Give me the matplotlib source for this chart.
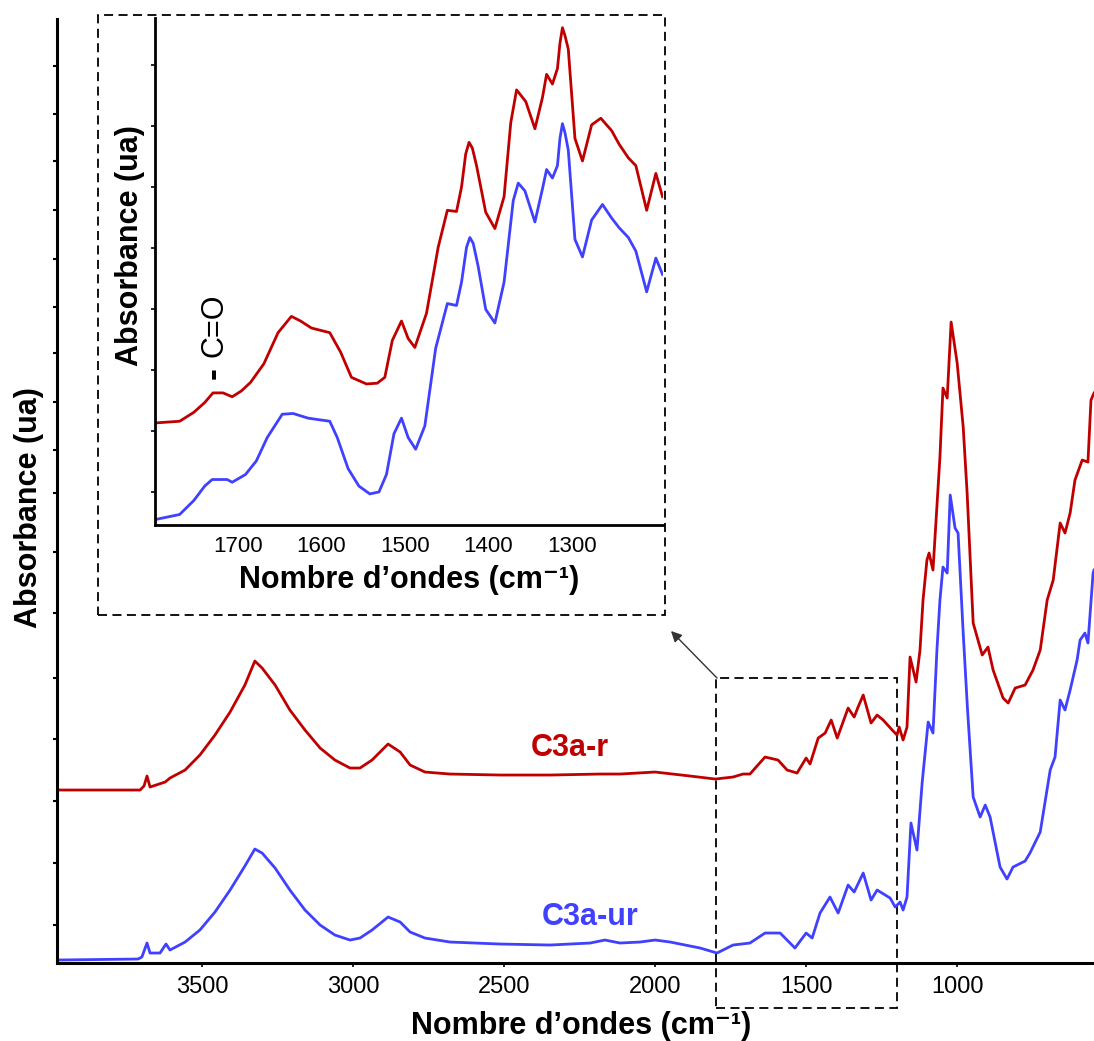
import numpy as np
import matplotlib
matplotlib.use("Agg")
import matplotlib.pyplot as plt
from matplotlib.patches import Rectangle

plt.rcParams["font.family"] = ["Liberation Sans", "DejaVu Sans"]

RED = "#C00000"
BLUE = "#4040FF"

# spectre complet (absorbance en ua)
wn_r = [3980, 3705, 3692, 3682, 3672, 3622, 3606, 3556, 3507, 3457, 3407, 3358, 3325, 3301,
        3258, 3209, 3159, 3109, 3060, 3010, 2977, 2937, 2884, 2844, 2811, 2762, 2679, 2513,
        2348, 2182, 2116, 2000, 1884, 1801, 1742, 1709, 1686, 1636, 1593, 1563, 1530, 1500,
        1487, 1460, 1437, 1417, 1397, 1361, 1341, 1328, 1311, 1285, 1265, 1245, 1215, 1199,
        1192, 1179, 1166, 1156, 1136, 1123, 1113, 1100, 1093, 1080, 1057, 1047, 1033, 1020,
        1000, 980, 967, 947, 917, 898, 881, 848, 831, 808, 775, 749, 725, 702, 682, 659,
        643, 626, 610, 586, 567, 557, 547]
abs_r = [173, 173, 177, 187, 176, 181, 185, 193, 208, 228, 251, 278, 302, 295,
         278, 253, 233, 215, 203, 195, 195, 203, 219, 211, 198, 191, 189, 188,
         188, 189, 189, 191, 187, 184, 186, 189, 189, 206, 203, 193, 190, 205,
         199, 225, 230, 243, 225, 255, 246, 256, 268, 240, 248, 243, 233, 228,
         236, 223, 236, 306, 281, 313, 363, 403, 410, 393, 506, 575, 565, 641,
         600, 536, 470, 340, 308, 316, 293, 265, 260, 275, 278, 293, 313, 363, 383, 440,
         430, 450, 483, 503, 501, 563, 570]

wn_b = [3980, 3712, 3699, 3682, 3672, 3639, 3619, 3606, 3556, 3507, 3457, 3407, 3358, 3325,
        3301, 3258, 3209, 3159, 3109, 3060, 3010, 2977, 2937, 2884, 2844, 2811, 2762, 2679,
        2513, 2348, 2215, 2166, 2116, 2050, 2000, 1950, 1851, 1795, 1742, 1686, 1636, 1586,
        1537, 1500, 1480, 1454, 1421, 1394, 1361, 1341, 1311, 1285, 1265, 1222, 1205, 1189,
        1179, 1166, 1153, 1133, 1116, 1096, 1080, 1067, 1057, 1047, 1033, 1023, 1007, 997,
        980, 966, 947, 924, 907, 891, 858, 835, 815, 775, 759, 725, 692, 676, 659, 643,
        626, 603, 593, 577, 567, 550, 547]
abs_b = [3, 4, 6, 20, 10, 10, 19, 13, 21, 33, 51, 73, 97, 114,
         110, 95, 73, 53, 38, 28, 23, 25, 33, 46, 41, 31, 25, 21,
         19, 18, 20, 23, 20, 21, 23, 21, 15, 10, 18, 20, 30, 30,
         15, 30, 25, 50, 66, 50, 78, 71, 90, 63, 73, 65, 56, 61,
         53, 66, 140, 113, 180, 241, 230, 313, 363, 396, 390, 468, 435, 430,
         330, 255, 166, 146, 158, 146, 96, 84, 96, 102, 110, 131, 193, 206, 263, 253,
         273, 303, 323, 330, 320, 390, 393]

# zoom 1800-1190 cm-1
wn_zr = [1797, 1770, 1753, 1740, 1730, 1718, 1707, 1696, 1685, 1669, 1652, 1636, 1625, 1612,
         1590, 1577, 1564, 1546, 1533, 1524, 1515, 1504, 1496, 1488, 1474, 1460, 1449, 1438,
         1432, 1427, 1423, 1419, 1414, 1403, 1392, 1381, 1373, 1366, 1355, 1344, 1335, 1330,
         1323, 1317, 1314, 1311, 1308, 1304, 1296, 1287, 1276, 1265, 1252, 1243, 1232, 1223,
         1210, 1199, 1191]
abs_zr = [263, 267, 290, 315, 340, 340, 330, 345, 367, 415, 495, 537, 525, 507,
          495, 445, 380, 363, 365, 380, 475, 525, 480, 457, 545, 715, 810, 807,
          870, 955, 985, 970, 925, 805, 763, 845, 1035, 1120, 1090, 1020, 1100, 1160,
          1135, 1175, 1240, 1280, 1260, 1225, 995, 937, 1030, 1047, 1015, 980, 945, 925,
          810, 905, 845]

wn_zb = [1797, 1770, 1753, 1740, 1731, 1713, 1707, 1691, 1678, 1665, 1647, 1634, 1616, 1590,
         1581, 1568, 1555, 1542, 1531, 1522, 1513, 1504, 1496, 1487, 1476, 1463, 1449, 1438,
         1432, 1426, 1422, 1418, 1412, 1403, 1392, 1381, 1370, 1364, 1356, 1344, 1335, 1330,
         1323, 1317, 1314, 1311, 1308, 1304, 1296, 1287, 1276, 1263, 1252, 1243, 1232, 1223,
         1210, 1199, 1191]
abs_zb = [15, 27, 63, 100, 117, 117, 110, 130, 165, 225, 285, 287, 275, 267,
          225, 145, 100, 80, 85, 130, 235, 275, 225, 195, 255, 455, 570, 565,
          625, 715, 740, 725, 665, 555, 520, 625, 835, 880, 860, 780, 865, 915,
          893, 925, 995, 1033, 1010, 965, 735, 690, 785, 825, 790, 765, 740, 705,
          600, 687, 645]

main_xticks = [3500, 3000, 2500, 2000, 1500, 1000]
main_yticks = [38, 100, 162, 224, 285, 350, 411, 470, 513, 561, 610, 656, 704, 753, 802, 849, 897]
zoom_xticks = [1700, 1600, 1500, 1400, 1300]
zoom_yticks = [85, 242, 399, 556, 713, 870, 1027, 1184]

xlab = "Nombre d\u2019ondes (cm\u207b\u00b9)"

fig = plt.figure(figsize=(10.94, 10.41), dpi=100)

# ---- main plot
ax = fig.add_axes([0.0521, 0.0749, 0.9479, 0.9068])
ax.plot(wn_r, abs_r, color=RED, lw=2.0)
ax.plot(wn_b, abs_b, color=BLUE, lw=2.0)
ax.set_xlim(3980, 547)
ax.set_ylim(0, 944)
ax.set_xticks(main_xticks)
ax.set_yticks(main_yticks)
ax.set_yticklabels([])
for s in ["top", "right"]:
    ax.spines[s].set_visible(False)
for s in ["left", "bottom"]:
    ax.spines[s].set_linewidth(2.2)
ax.tick_params(axis="x", direction="out", length=3, width=1.2, pad=6, labelsize=17)
ax.tick_params(axis="y", direction="out", length=3, width=1.5)
ax.set_xlabel(xlab, fontsize=22, fontweight="bold", va="center")
ax.xaxis.set_label_coords(0.505, -0.0667)
ax.set_ylabel("Absorbance (ua)", fontsize=22, fontweight="bold", va="center")
ax.yaxis.set_label_coords(-0.027, 0.483)

ax.text(2282, 215, "C3a-r", color=RED, fontsize=22, fontweight="bold", ha="center", va="center")
ax.text(2215, 46, "C3a-ur", color=BLUE, fontsize=22, fontweight="bold", ha="center", va="center")

ax.add_patch(Rectangle((1800, -45), -600, 330, fill=False, ec="black", lw=1.3,
                       ls=(0, (5, 3)), clip_on=False))

# ---- inset
ax2 = fig.add_axes([0.1421, 0.4957, 0.4635, 0.487])
ax2.plot(wn_zr, abs_zr, color=RED, lw=2.0)
ax2.plot(wn_zb, abs_zb, color=BLUE, lw=2.0)
ax2.set_xlim(1799, 1191)
ax2.set_ylim(0, 1305)
ax2.set_xticks(zoom_xticks)
ax2.set_yticks(zoom_yticks)
ax2.set_yticklabels([])
ax2.patch.set_alpha(0)
for s in ["top", "right"]:
    ax2.spines[s].set_visible(False)
for s in ["left", "bottom"]:
    ax2.spines[s].set_linewidth(2.0)
ax2.tick_params(axis="x", length=0, pad=8, labelsize=16)
ax2.tick_params(axis="y", direction="out", length=3, width=1.2)
ax2.set_xlabel(xlab, fontsize=22, fontweight="bold", va="center")
ax2.xaxis.set_label_coords(0.5, -0.108)
ax2.set_ylabel("Absorbance (ua)", fontsize=22, fontweight="bold", va="center")
ax2.yaxis.set_label_coords(-0.05, 0.552)
ax2.text(1728, 515, "C=O", fontsize=22, rotation=90, ha="center", va="center")
ax2.text(1730, 392, "-", fontsize=26, fontweight="bold", rotation=90, ha="center", va="center")

fig.patches.append(Rectangle((0.0896, 0.4092), 0.5183, 0.5764, transform=fig.transFigure,
                             fill=False, ec="black", lw=1.3, ls=(0, (5, 3))))

ax.annotate("", xy=(671 / 1094, 1 - 631 / 1041), xytext=(717 / 1094, 1 - 678 / 1041),
            xycoords="figure fraction", textcoords="figure fraction",
            arrowprops=dict(arrowstyle="-|>", color="#333333", lw=1.0, mutation_scale=16,
                            shrinkA=0, shrinkB=0))

fig.savefig("out.png", dpi=100)
